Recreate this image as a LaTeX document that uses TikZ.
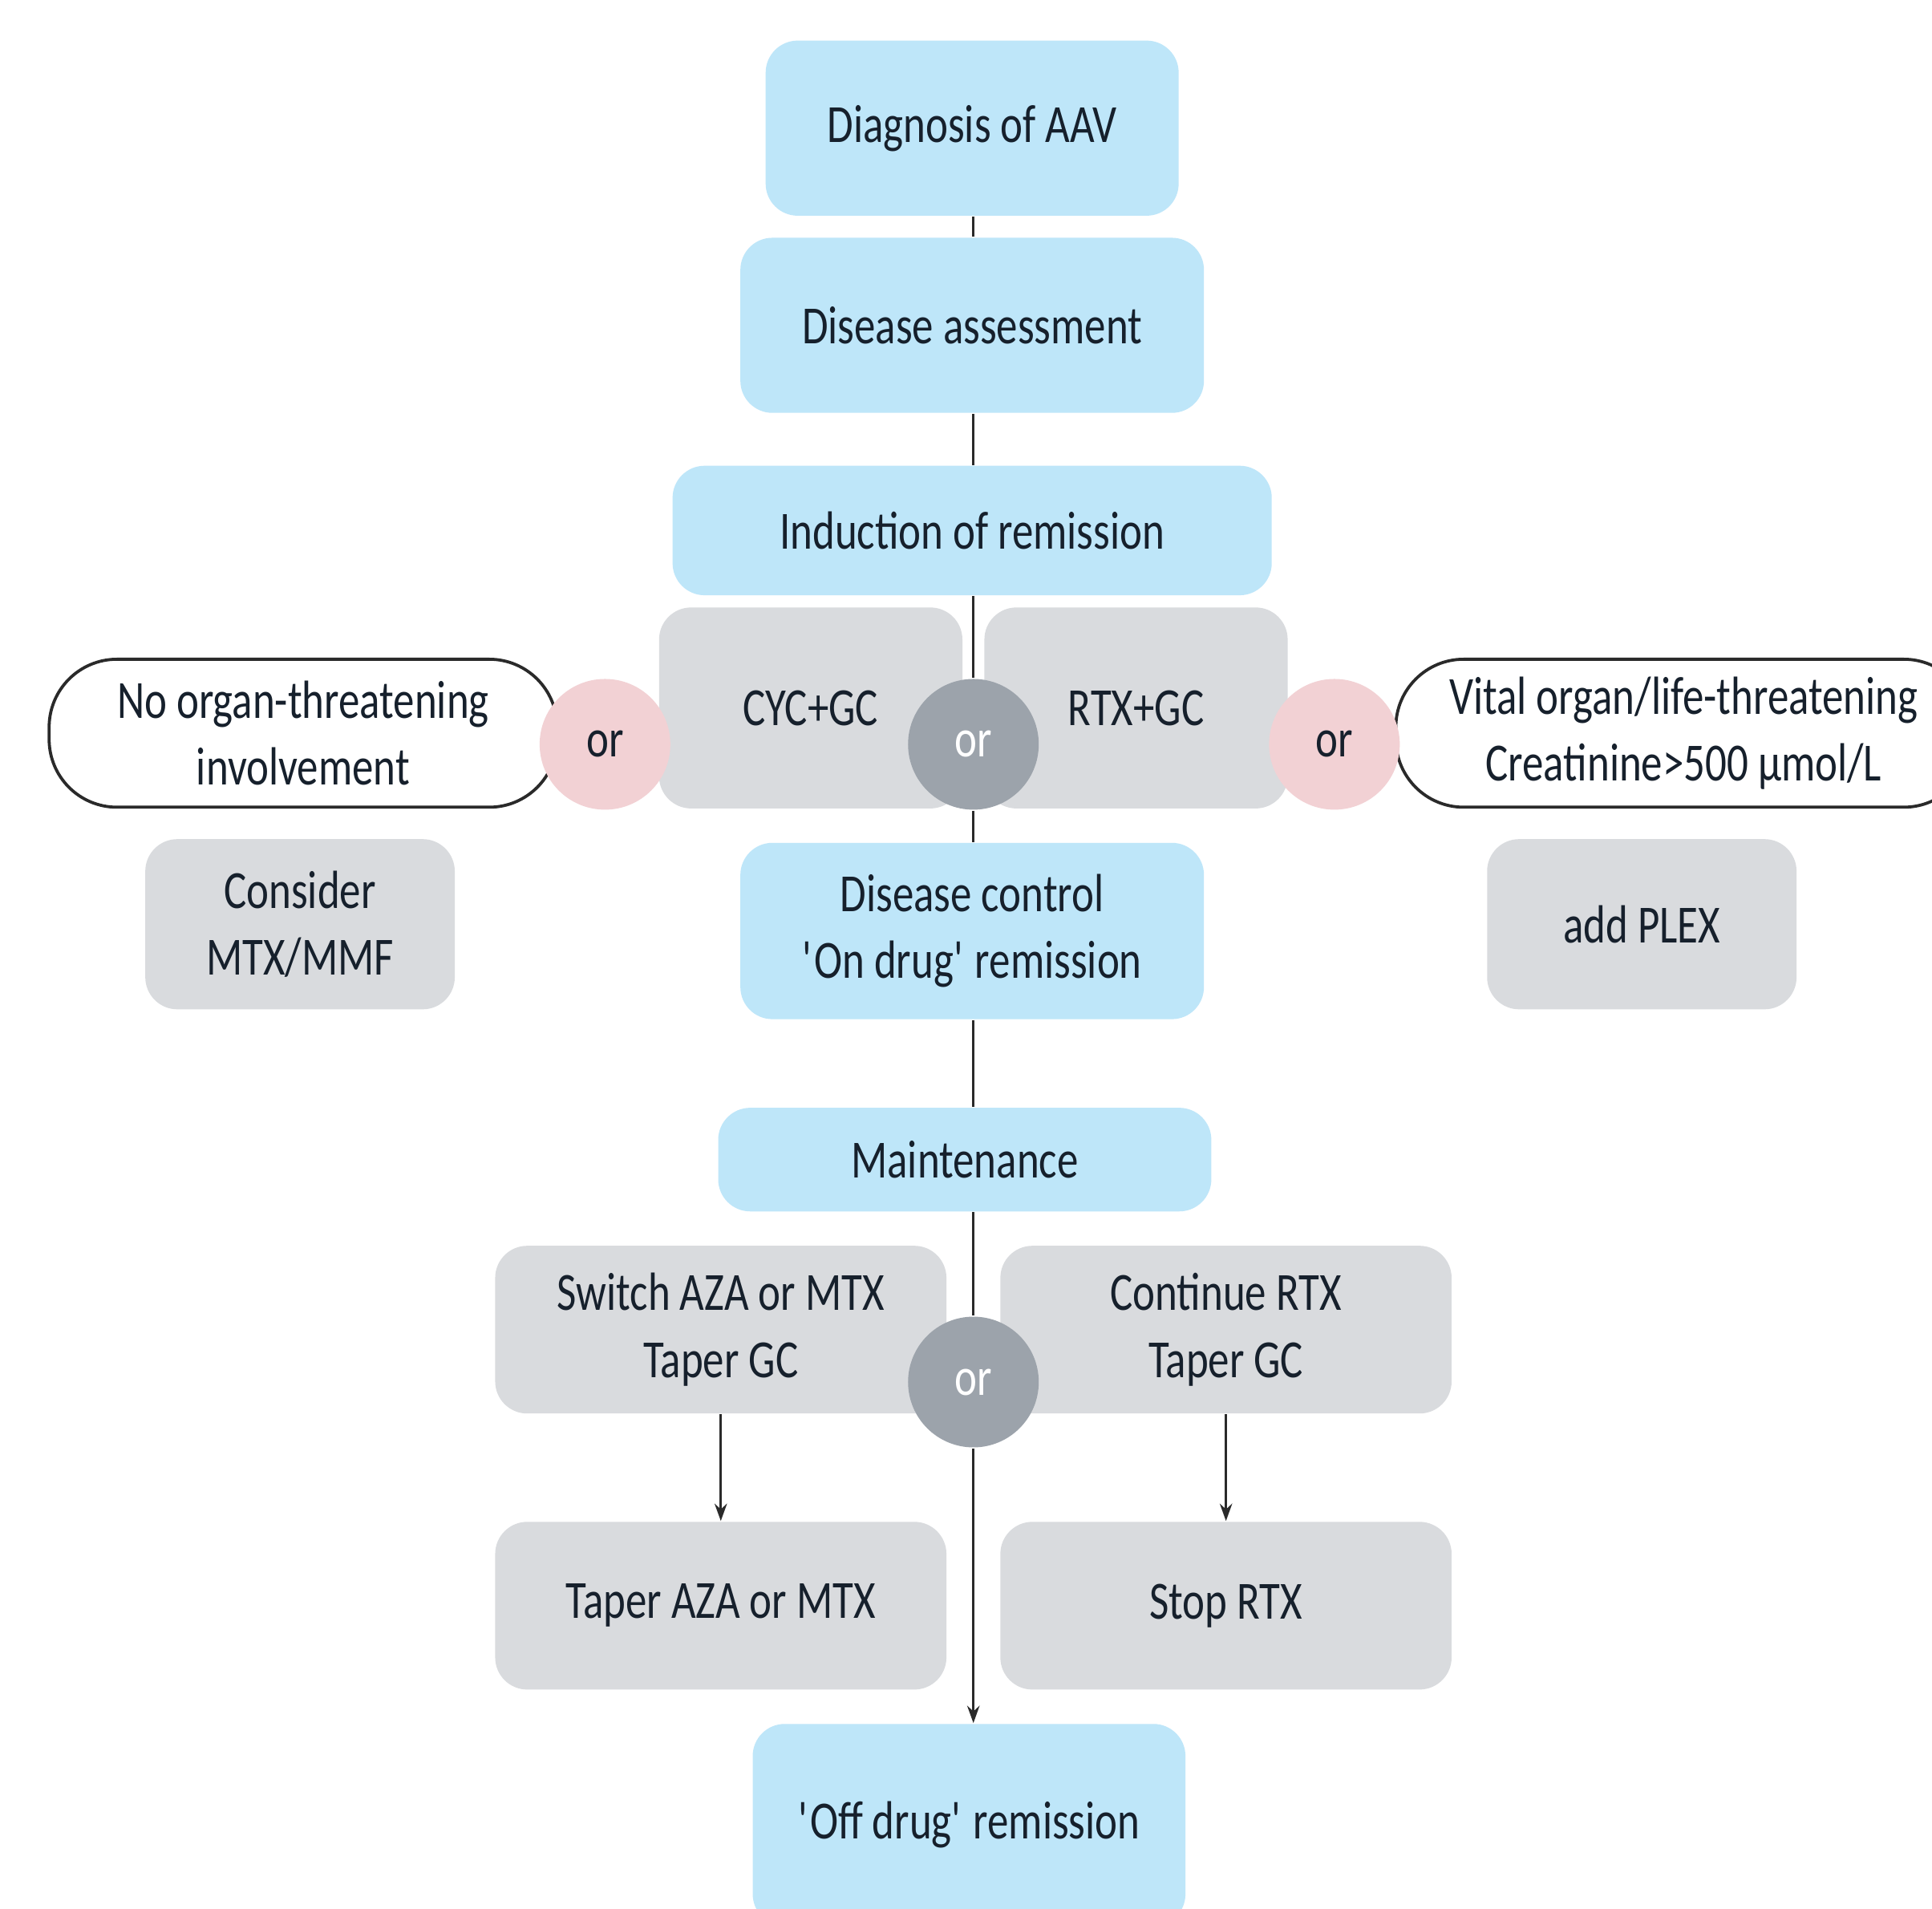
\documentclass[tikz,border=0pt]{standalone}
\usepackage{fontspec}
\setmainfont[FakeStretch=0.79]{Carlito}
\usetikzlibrary{arrows.meta}
\definecolor{boxblue}{HTML}{BEE6F9}
\definecolor{boxgray}{HTML}{D9DBDE}
\definecolor{orgray}{HTML}{9CA3AB}
\definecolor{orpink}{HTML}{F2D1D4}
\definecolor{txt}{HTML}{16202C}
\definecolor{edge}{HTML}{2A2A2A}
\begin{document}
\begin{tikzpicture}[x=0.01cm,y=-0.01cm,
  font=\fontsize{12.4}{15.4}\selectfont,
  every node/.style={text=txt, align=center, inner sep=0pt},
  bluebox/.style={fill=boxblue, rounded corners=0.26cm},
  graybox/.style={fill=boxgray, rounded corners=0.26cm},
  orcirc/.style={circle, minimum size=1.06cm},
  pinkor/.style={orcirc, fill=orpink},
  grayor/.style={orcirc, fill=orgray, text=white},
  pill/.style={draw=edge, line width=0.7pt, fill=white, rounded corners=0.55cm},
  link/.style={draw=edge, line width=0.6pt},
  arr/.style={link, -{Stealth[length=0.14cm,width=0.1cm]}}]
\useasboundingbox[fill=white] (0,0) rectangle (1568,1549);

% main column
\node[bluebox, minimum width=3.35cm, minimum height=1.42cm] (diag) at (789,104) {Diagnosis of AAV};
\node[bluebox, minimum width=3.76cm, minimum height=1.42cm] (assess) at (789,264) {Disease assessment};
\node[bluebox, minimum width=4.86cm, minimum height=1.05cm] (induct) at (789,430.5) {Induction of remission};

% induction options
\node[graybox, minimum width=2.46cm, minimum height=1.63cm] (cyc) at (658,574.5) {CYC+GC};
\node[graybox, minimum width=2.46cm, minimum height=1.63cm] (rtx) at (922,574.5) {RTX+GC};
\node[pill, minimum width=4.12cm, minimum height=1.2cm] (noorg) at (246,595) {No organ-threatening\\involvement};
\node[pill, minimum width=4.67cm, minimum height=1.2cm] (vital) at (1366.5,595) {Vital organ/life-threatening\\Creatinine>500 µmol/L};
\node[pinkor] (orL) at (491,604) {or};
\node[pinkor] (orR) at (1083,604) {or};
\node[grayor] (or1) at (790,604) {or};

\node[graybox, minimum width=2.51cm, minimum height=1.38cm] (consider) at (243.5,750) {Consider\\MTX/MMF};
\node[graybox, minimum width=2.51cm, minimum height=1.38cm] (plex) at (1332.5,750) {add PLEX};

\node[bluebox, minimum width=3.76cm, minimum height=1.43cm] (control) at (789,755.5) {Disease control\\\textquotesingle On drug\textquotesingle{} remission};
\node[bluebox, minimum width=4.00cm, minimum height=0.84cm] (maint) at (783,941) {Maintenance};

% maintenance options
\node[graybox, minimum width=3.66cm, minimum height=1.36cm] (switch) at (585,1079) {Switch AZA or MTX\\Taper GC};
\node[graybox, minimum width=3.66cm, minimum height=1.36cm] (cont) at (995,1079) {Continue RTX\\Taper GC};
\node[grayor] (or2) at (790,1121.5) {or};
\node[graybox, minimum width=3.66cm, minimum height=1.36cm] (taper) at (585,1303) {Taper AZA or MTX};
\node[graybox, minimum width=3.66cm, minimum height=1.36cm] (stop) at (995,1303) {Stop RTX};

\node[bluebox, minimum width=3.51cm, minimum height=1.64cm] (off) at (786.5,1481) {\textquotesingle Off drug\textquotesingle{} remission};

% connectors
\draw[link] (diag.south -| or1) -- (assess.north -| or1);
\draw[link] (assess.south -| or1) -- (induct.north -| or1);
\draw[link] (induct.south -| or1) -- (or1.north);
\draw[link] (or1.south) -- (control.north -| or1);
\draw[link] (control.south -| or1) -- (maint.north -| or1);
\draw[link] (maint.south -| or2) -- (or2.north);
\draw[arr] (or2.south) -- (off.north -| or2);
\draw[arr] (switch.south) -- (taper.north);
\draw[arr] (cont.south) -- (stop.north);
\end{tikzpicture}
\end{document}
